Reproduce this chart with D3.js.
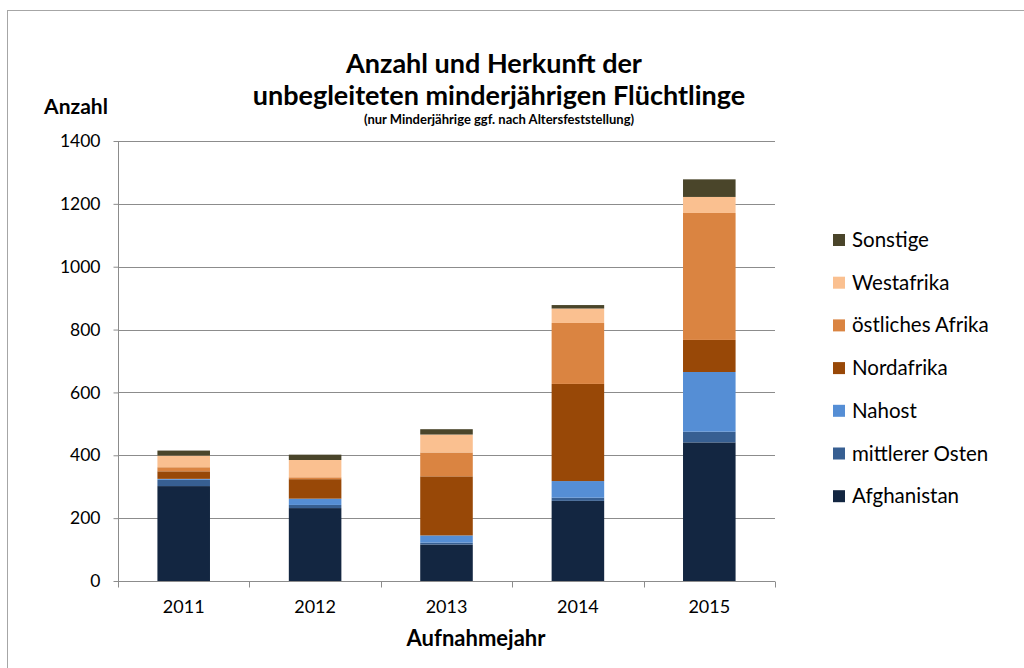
<!DOCTYPE html>
<html><head><meta charset="utf-8">
<script src="https://cdn.jsdelivr.net/npm/d3@7"></script>
<style>body{margin:0;background:#fff;}svg{display:block;font-family:Lato,"Open Sans",sans-serif;}</style>
</head><body>
<svg id="c" width="1024" height="668"></svg>
<script>
const years = ["2011","2012","2013","2014","2015"];
const seriesNames = ["Afghanistan","mittlerer Osten","Nahost","Nordafrika","östliches Afrika","Westafrika","Sonstige"];
const afghanistan = [302, 232, 116, 255, 441];
const mittlererOsten = [20, 10, 6, 10, 34];
const nahost = [3, 20, 23, 53, 190];
const nordafrika = [24, 62, 188, 309, 102];
const oestlichesAfrika = [13, 6, 76, 194, 404];
const westafrika = [37, 55, 57, 46, 51];
const sonstige = [16, 17, 17, 11, 56];
const colors = ["#132641","#375F92","#558ED5","#984807","#DA8441","#FAC090","#4A452A"];
const yTicks = [0,200,400,600,800,1000,1200,1400];

const allSeries = [afghanistan, mittlererOsten, nahost, nordafrika, oestlichesAfrika, westafrika, sonstige];
const table = years.map((y,i)=>{const o={year:y}; seriesNames.forEach((n,k)=>o[n]=allSeries[k][i]); return o;});
const stacked = d3.stack().keys(seriesNames)(table);

const svg = d3.select("#c");
const m = {left:118, right:775, top:141, bottom:581};
const x = d3.scaleBand().domain(years).range([m.left, m.right]).paddingInner(0.6).paddingOuter(0.3);
const y = d3.scaleLinear().domain([0,1400]).range([m.bottom, m.top]);

// outer frame
svg.append("rect").attr("x",7.5).attr("y",10.5).attr("width",1100).attr("height",800)
  .attr("fill","none").attr("stroke","#a6a6a6").attr("stroke-width",1);

// gridlines
svg.append("g").selectAll("line").data(yTicks.filter(d=>d>0)).join("line")
  .attr("x1",m.left).attr("x2",m.right).attr("y1",d=>Math.round(y(d))+0.5).attr("y2",d=>Math.round(y(d))+0.5)
  .attr("stroke","#8c8c8c").attr("stroke-width",1);

// bars
svg.append("g").selectAll("g").data(stacked).join("g").attr("fill",(d,i)=>colors[i])
  .selectAll("rect").data(d=>d).join("rect")
  .attr("x",d=>x(d.data.year)).attr("width",x.bandwidth())
  .attr("y",d=>y(d[1])).attr("height",d=>y(d[0])-y(d[1]));

// y axis
const yAxis = d3.axisLeft(y).tickValues(yTicks).tickFormat(d3.format("d")).tickSize(5).tickPadding(13);
const gy = svg.append("g").attr("transform",`translate(${m.left+0.5},0)`).call(yAxis);
gy.select(".domain").attr("stroke","#8c8c8c").attr("d",`M0,${m.bottom}V${m.top}`);
gy.selectAll(".tick line").attr("stroke","#8c8c8c");
gy.selectAll(".tick text").attr("font-size",17.5).attr("fill","#000").attr("font-family","Lato");

// x axis
const xb = d3.scaleLinear().domain([0,5]).range([m.left,m.right]);
const gx = svg.append("g").attr("transform",`translate(0,${m.bottom+0.5})`);
gx.append("line").attr("x1",m.left).attr("x2",m.right).attr("stroke","#8c8c8c");
gx.selectAll("line.t").data(d3.range(6)).join("line").attr("class","t")
  .attr("x1",d=>Math.round(xb(d))+0.5).attr("x2",d=>Math.round(xb(d))+0.5).attr("y1",0).attr("y2",6).attr("stroke","#8c8c8c");
const xAxis = d3.axisBottom(x).tickSize(0).tickPadding(19);
const gx2 = svg.append("g").attr("transform",`translate(0,${m.bottom})`).call(xAxis);
gx2.select(".domain").remove();
gx2.selectAll(".tick text").attr("font-size",18).attr("fill","#000").attr("font-family","Lato");

// titles
svg.append("text").attr("x",494).attr("y",73).attr("text-anchor","middle").attr("font-weight","bold").attr("font-size",27).text("Anzahl und Herkunft der");
svg.append("text").attr("x",499).attr("y",105).attr("text-anchor","middle").attr("font-weight","bold").attr("font-size",27).text("unbegleiteten minderjährigen Flüchtlinge");
svg.append("text").attr("x",499).attr("y",124).attr("text-anchor","middle").attr("font-weight","bold").attr("font-size",13).text("(nur Minderjährige ggf. nach Altersfeststellung)");
svg.append("text").attr("x",76).attr("y",114).attr("text-anchor","middle").attr("font-weight","bold").attr("font-size",21).text("Anzahl");
svg.append("text").attr("x",476).attr("y",646).attr("text-anchor","middle").attr("font-weight","bold").attr("font-size",22).text("Aufnahmejahr");

// legend
const legOrder = seriesNames.slice().reverse();
const lg = svg.append("g").selectAll("g").data(legOrder).join("g")
  .attr("transform",(d,i)=>`translate(833,${240+i*42.7})`);
lg.append("rect").attr("x",0).attr("y",-6).attr("width",12).attr("height",12)
  .attr("fill",d=>colors[seriesNames.indexOf(d)]);
lg.append("text").attr("x",19).attr("y",7).attr("font-size",20.5).text(d=>d);
</script>
</body></html>
